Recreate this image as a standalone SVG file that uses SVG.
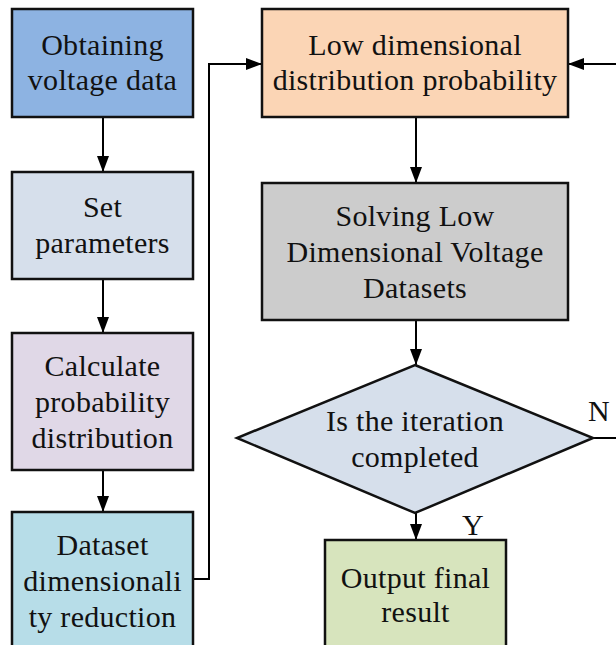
<svg xmlns="http://www.w3.org/2000/svg" width="616" height="645" viewBox="0 0 616 645">
<defs>
<marker id="ah" markerWidth="16" markerHeight="12" refX="16" refY="6" orient="auto" markerUnits="userSpaceOnUse">
<path d="M0,0 L16,6 L0,12 Z" fill="#000"/>
</marker>
<style>
.box{stroke:#111;stroke-width:2.5}
.t{font-family:"Liberation Serif","Times New Roman","DejaVu Serif",serif;font-size:30px;letter-spacing:0.3px;fill:#111;text-anchor:middle}
.c{fill:none;stroke:#000;stroke-width:2}
</style>
</defs>
<rect width="616" height="645" fill="#fff"/>
<g id="connectors">
<line class="c" x1="103" y1="117" x2="103" y2="172" marker-end="url(#ah)"/>
<line class="c" x1="103" y1="279" x2="103" y2="333" marker-end="url(#ah)"/>
<line class="c" x1="103" y1="470" x2="103" y2="512" marker-end="url(#ah)"/>
<polyline class="c" points="193,579 209,579 209,64 262,64" marker-end="url(#ah)"/>
<line class="c" x1="416" y1="117" x2="416" y2="183" marker-end="url(#ah)"/>
<line class="c" x1="416" y1="320" x2="416" y2="365" marker-end="url(#ah)"/>
<line class="c" x1="416" y1="513" x2="416" y2="540" marker-end="url(#ah)"/>
<line class="c" x1="593" y1="438" x2="616" y2="438"/>
<line class="c" x1="616" y1="64" x2="568" y2="64" marker-end="url(#ah)"/>
<text class="t" x="599" y="421">N</text>
<text class="t" x="473" y="535">Y</text>
</g>
<g id="n1">
<rect class="box" x="12" y="9" width="181" height="108" fill="#8DB3E2"/>
<text class="t" x="102.5" y="55">Obtaining</text>
<text class="t" x="102.5" y="90">voltage data</text>
</g>
<g id="n2">
<rect class="box" x="12" y="172" width="181" height="107" fill="#D6DFEB"/>
<text class="t" x="102.5" y="217">Set</text>
<text class="t" x="102.5" y="253">parameters</text>
</g>
<g id="n3">
<rect class="box" x="12" y="333" width="181" height="137" fill="#E0D8E7"/>
<text class="t" x="102.5" y="376">Calculate</text>
<text class="t" x="102.5" y="412">probability</text>
<text class="t" x="102.5" y="448">distribution</text>
</g>
<g id="n4">
<rect class="box" x="12" y="512" width="181" height="145" fill="#B7DDE8"/>
<text class="t" x="102.5" y="555">Dataset</text>
<text class="t" x="102.5" y="591">dimensionali</text>
<text class="t" x="102.5" y="627">ty reduction</text>
</g>
<g id="n5">
<rect class="box" x="262" y="9" width="306" height="108" fill="#FBD5B5"/>
<text class="t" x="415" y="55">Low dimensional</text>
<text class="t" x="415" y="90">distribution probability</text>
</g>
<g id="n6">
<rect class="box" x="262" y="183" width="306" height="137" fill="#CCCCCC"/>
<text class="t" x="415" y="226">Solving Low</text>
<text class="t" x="415" y="262">Dimensional Voltage</text>
<text class="t" x="415" y="298">Datasets</text>
</g>
<g id="n7">
<polygon class="box" points="415,365 593,438 415,513 237,438" fill="#D6DFEB"/>
<text class="t" x="415" y="431">Is the iteration</text>
<text class="t" x="415" y="467">completed</text>
</g>
<g id="n8">
<rect class="box" x="325" y="540" width="181" height="117" fill="#D7E4BD"/>
<text class="t" x="415.5" y="588">Output final</text>
<text class="t" x="415.5" y="622">result</text>
</g>
</svg>
